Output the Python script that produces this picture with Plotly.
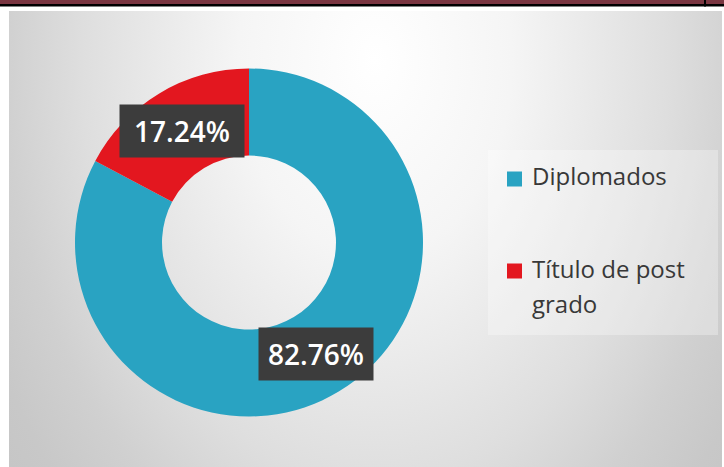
import base64
import math
import textwrap

import plotly.graph_objects as go

# ---- data -------------------------------------------------------------
categories = ["Diplomados", "Título de post grado"]
values = [82.76, 17.24]
colors = ["#29a3c2", "#e3171f"]

# ---- canvas geometry (pixels) -----------------------------------------
W, H = 724, 467
CX, CY, R = 249, 242.5, 174          # donut centre and outer radius
HOLE = 0.5
LABEL_R = 130                        # radius where value boxes sit
LABEL_BOX_W = [112, 122]
LABEL_BOX_H = 50


def px(x):
    return x / W


def py(y):
    return 1 - y / H


# soft radial background of the chart panel
PANEL = (9, 11, 722, 467)
pw, ph = PANEL[2] - PANEL[0], PANEL[3] - PANEL[1]
gcx, gcy = 375 - PANEL[0], 60 - PANEL[1]
svg = f"""<svg xmlns='http://www.w3.org/2000/svg' width='{pw}' height='{ph}'>
<defs><radialGradient id='g' gradientUnits='userSpaceOnUse' cx='0' cy='0' r='1'
 gradientTransform='matrix(507 0 0 728 {gcx} {gcy})'>
<stop offset='0' stop-color='#ffffff'/>
<stop offset='0.27' stop-color='#f5f5f5'/>
<stop offset='0.42' stop-color='#eaeaea'/>
<stop offset='0.58' stop-color='#dedede'/>
<stop offset='0.73' stop-color='#d0d0d0'/>
<stop offset='0.85' stop-color='#c8c8c8'/>
<stop offset='1' stop-color='#c3c3c3'/>
</radialGradient></defs>
<rect width='{pw}' height='{ph}' fill='url(#g)'/></svg>"""
bg_uri = "data:image/svg+xml;base64," + base64.b64encode(svg.encode()).decode()

fig = go.Figure()

fig.add_trace(go.Pie(
    labels=categories,
    values=values,
    marker=dict(colors=colors, line=dict(width=0)),
    hole=HOLE,
    sort=False,
    direction="clockwise",
    rotation=0,
    textinfo="none",
    hoverinfo="skip",
    showlegend=False,
    domain=dict(x=[px(CX - R), px(CX + R)], y=[py(CY + R), py(CY - R)]),
))

annotations = []
shapes = []

# value boxes placed at each slice's mid angle
total = sum(values)
cum = 0.0
for v, bw in zip(values, LABEL_BOX_W):
    mid = (cum + v / 2) / total * 2 * math.pi
    cum += v
    lx = CX + LABEL_R * math.sin(mid)
    ly = CY - LABEL_R * math.cos(mid)
    annotations.append(dict(
        x=px(lx), y=py(ly), xref="paper", yref="paper",
        text=f"{v / total * 100:.2f}%", showarrow=False,
        font=dict(family="Open Sans", size=28, color="#ffffff", weight=600),
        bgcolor="#3c3c3c", width=bw, height=LABEL_BOX_H,
        xanchor="center", yanchor="middle",
    ))

# legend panel
LEG = (488, 150, 718, 335)
shapes.append(dict(type="rect", xref="paper", yref="paper",
                   x0=px(LEG[0]), x1=px(LEG[2]), y0=py(LEG[3]), y1=py(LEG[1]),
                   fillcolor="rgba(255,255,255,0.3)", line=dict(width=0), layer="below"))

ROW_Y = [176, 268]
LINE_GAP = 35
SQ = 15
for name, col, ry in zip(categories, colors, ROW_Y):
    shapes.append(dict(type="rect", xref="paper", yref="paper",
                       x0=px(507), x1=px(507 + SQ), y0=py(ry + 3 + SQ / 2), y1=py(ry + 3 - SQ / 2),
                       fillcolor=col, line=dict(width=0)))
    for i, line in enumerate(textwrap.wrap(name, 14)):
        annotations.append(dict(
            x=px(530), y=py(ry + i * LINE_GAP), xref="paper", yref="paper",
            text=line, showarrow=False, xanchor="left", yanchor="middle",
            font=dict(family="Open Sans", size=24, color="#383838"),
        ))

# page header rule
shapes += [
    dict(type="rect", xref="paper", yref="paper", x0=0, x1=1, y0=py(4), y1=1,
         fillcolor="#7a3641", line=dict(width=0)),
    dict(type="rect", xref="paper", yref="paper", x0=0, x1=1, y0=py(6.5), y1=py(4),
         fillcolor="#000000", line=dict(width=0)),
    dict(type="rect", xref="paper", yref="paper", x0=px(704), x1=px(706), y0=py(6.5), y1=1,
         fillcolor="#000000", line=dict(width=0)),
]

fig.update_layout(
    width=W, height=H,
    margin=dict(l=0, r=0, t=0, b=0),
    paper_bgcolor="#ffffff",
    plot_bgcolor="#ffffff",
    showlegend=False,
    images=[dict(source=bg_uri, xref="paper", yref="paper",
                 x=px(PANEL[0]), y=py(PANEL[1]), sizex=pw / W, sizey=ph / H,
                 xanchor="left", yanchor="top", sizing="stretch", layer="below")],
    shapes=shapes,
    annotations=annotations,
)

fig.write_html("out.html")
